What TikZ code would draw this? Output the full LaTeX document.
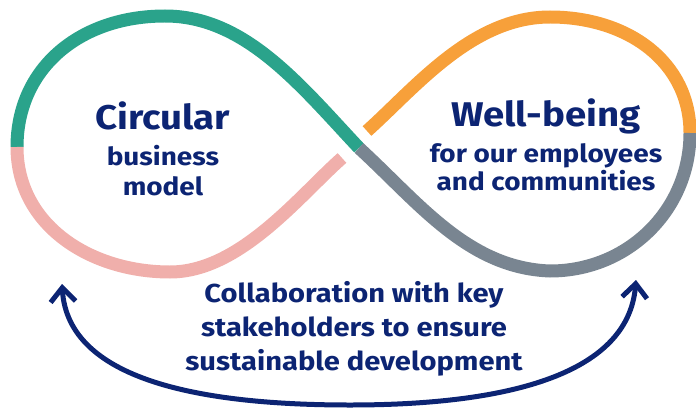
\documentclass[tikz,border=0pt]{standalone}
\usepackage{fontspec}
\setmainfont{Fira Sans}[FakeStretch=1.12]
\usetikzlibrary{arrows.meta}

\definecolor{loopteal}{HTML}{2AA38B}
\definecolor{looppink}{HTML}{F0AFAB}
\definecolor{looporange}{HTML}{F7A03A}
\definecolor{loopgrey}{HTML}{798591}
\definecolor{navy}{HTML}{0C2473}

\tikzset{
    band/.style={line width=0.26cm},
    title/.style={text=navy, anchor=base, inner sep=0pt,
        font=\bfseries\fontsize{19.5}{22}\selectfont},
    subtitle/.style={text=navy, anchor=base, inner sep=0pt,
        font=\bfseries\fontsize{14.2}{16}\selectfont},
    collab/.style={text=navy, anchor=base, inner sep=0pt,
        font=\bfseries\fontsize{14.8}{18}\selectfont},
    loopback/.style={draw=navy, line width=0.1cm,
        {Straight Barb[length=0.28cm,width=0.5cm]}-{Straight Barb[length=0.28cm,width=0.5cm]}}
}

\begin{document}
\begin{tikzpicture}[x=0.02cm, y=-0.02cm]
    \useasboundingbox (0,0) rectangle (696,412);
    % left loop
    \draw [band, loopteal] (17,147) .. controls (17,68) and (80,16) .. (165,16) %
        .. controls (245,16) and (300,85) .. (359,148);
    \draw [band, looppink] (17,147) .. controls (17,225) and (90,272) .. (170,272) %
        .. controls (240,272) and (300,195) .. (342,158);
    % right loop
    \draw [band, looporange] (690,133) .. controls (690,62) and (628,17) .. (550,17) %
        .. controls (472,17) and (415,88) .. (367,131);
    \draw [band, loopgrey] (359,148) .. controls (419,203) and (468,268) .. (550,271) %
        .. controls (628,271) and (690,210) .. (690,133);
    % texts in the loops
    \node [title] (circ) at (163,130) {Circular};
    \node [subtitle] (biz) at (163,165) {business};
    \node [subtitle] (model) at (163,195) {model};
    \node [title] (well) at (546,127) {Well-being};
    \node [subtitle] (staff) at (546,162) {for our employees};
    \node [subtitle] (comm) at (546,190.5) {and communities};
    % collaboration arrow
    \coordinate (lt) at (62,284);
    \coordinate (rt) at (636,280);
    \draw [loopback] (lt) .. controls (68,380) and (200,405) .. (350,405) %
        .. controls (498,405) and (628,378) .. (rt);
    \node [collab] (col1) at (354,302) {Collaboration with key};
    \node [collab] (col2) at (354,336) {stakeholders to ensure};
    \node [collab] (col3) at (354,370) {sustainable development};
\end{tikzpicture}
\end{document}
